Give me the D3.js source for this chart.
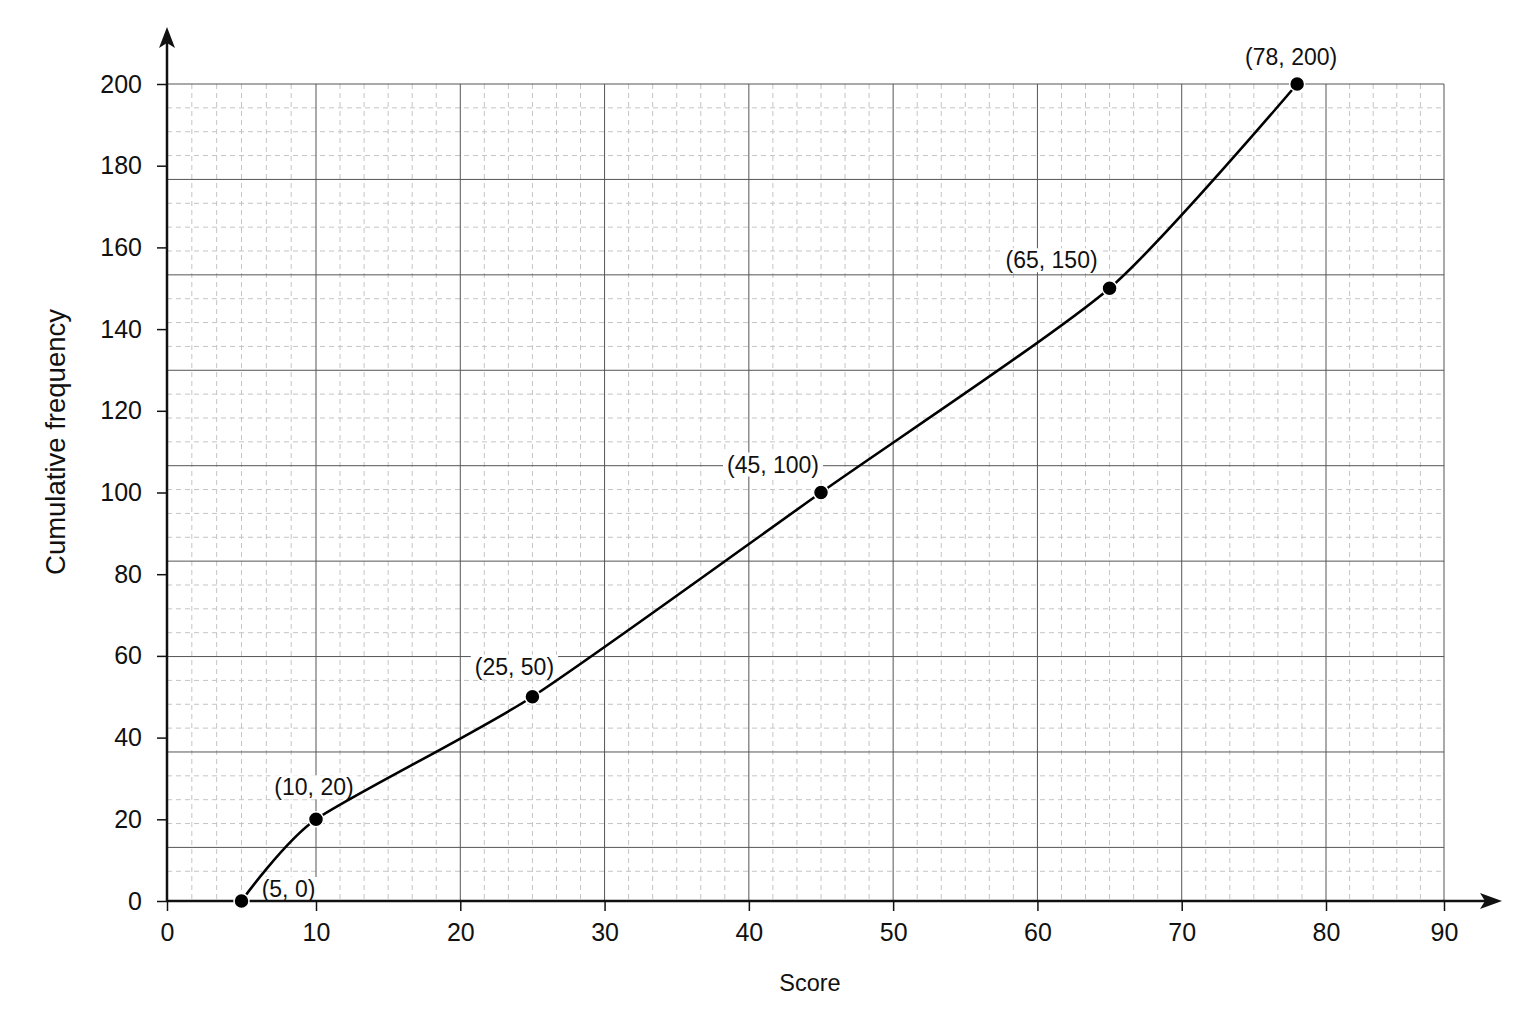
<!DOCTYPE html>
<html>
<head>
<meta charset="utf-8">
<script src="https://cdn.jsdelivr.net/npm/d3@7"></script>
<style>
  html, body { margin: 0; padding: 0; background: #fff; }
  text { font-family: "Liberation Sans", Arial, sans-serif; fill: #111; }
</style>
</head>
<body>
<script>
// 累积频率数据
const scores = [5, 10, 25, 45, 65, 78]
const cumFreq = [0, 20, 50, 100, 150, 200]
const pointLabels = ['(5, 0)', '(10, 20)', '(25, 50)', '(45, 100)', '(65, 150)', '(78, 200)']
const xTicks = [0, 10, 20, 30, 40, 50, 60, 70, 80, 90]
const yTicks = [0, 20, 40, 60, 80, 100, 120, 140, 160, 180, 200]

// 标签位置 (相对点的偏移)
const labelOffsets = [[47, -4], [-2, -24], [-18, -22], [-48, -20], [-58, -20], [-6, -19]]

const W = 1536, H = 1024

const svg = d3.select('body')
  .append('svg')
  .attr('width', W)
  .attr('height', H)

// x轴刻度间距不均匀，按刻度位置分段
const x = d3.scaleLinear()
  .domain([0, 10, 80, 90])
  .range([167, 316, 1326, 1444])

const y = d3.scaleLinear()
  .domain([0, 200])
  .range([901, 84])

// 坐标纸网格
const grid = svg.append('g')

const xMinor = []
xTicks.slice(0, -1).forEach(t => {
  const n = t === 80 ? 5 : 6
  for (let i = 1; i < n; i++) xMinor.push(t + i * 10 / n)
})
const yStep = 5.84
const yMinor = [], yMajor = []
for (let k = 1; k <= 33; k++) {
  const v = 200 - k * yStep
  if (k % 4 === 0) yMajor.push(v)
  else yMinor.push(v)
}

grid.selectAll('.vminor')
  .data(xMinor)
  .enter()
  .append('line')
  .attr('x1', d => x(d)).attr('x2', d => x(d))
  .attr('y1', y(200)).attr('y2', y(0))
  .attr('stroke', '#c4c4c4')
  .attr('stroke-width', 1)
  .attr('stroke-dasharray', '5,4')

grid.selectAll('.hminor')
  .data(yMinor)
  .enter()
  .append('line')
  .attr('x1', x(0)).attr('x2', x(90))
  .attr('y1', d => y(d)).attr('y2', d => y(d))
  .attr('stroke', '#c4c4c4')
  .attr('stroke-width', 1)
  .attr('stroke-dasharray', '5,4')

grid.selectAll('.vmajor')
  .data(xTicks.slice(1))
  .enter()
  .append('line')
  .attr('x1', d => x(d)).attr('x2', d => x(d))
  .attr('y1', y(200)).attr('y2', y(0))
  .attr('stroke', '#555')
  .attr('stroke-width', 1)

grid.selectAll('.hmajor')
  .data(yMajor.concat([200]))
  .enter()
  .append('line')
  .attr('x1', x(0)).attr('x2', x(90))
  .attr('y1', d => y(d)).attr('y2', d => y(d))
  .attr('stroke', '#555')
  .attr('stroke-width', 1)

const data = scores.map((s, i) => ({ score: s, freq: cumFreq[i], label: pointLabels[i] }))

// 点标签 (白底遮住网格线)
const labels = svg.append('g')
  .selectAll('g')
  .data(data)
  .enter()
  .append('g')

labels.append('text')
  .attr('x', (d, i) => x(d.score) + labelOffsets[i][0])
  .attr('y', (d, i) => y(d.freq) + labelOffsets[i][1])
  .attr('text-anchor', 'middle')
  .style('font-size', '23px')
  .text(d => d.label)

labels.each(function () {
  const g = d3.select(this)
  const b = g.select('text').node().getBBox()
  g.insert('rect', 'text')
    .attr('x', b.x - 4)
    .attr('y', b.y + 1)
    .attr('width', b.width + 8)
    .attr('height', b.height - 2)
    .attr('fill', '#fff')
})

// 坐标轴
const xAxis = svg.append('g')
  .attr('transform', `translate(0,${y(0)})`)
  .call(d3.axisBottom(x).tickValues(xTicks).tickSize(10).tickPadding(12))
xAxis.select('.domain').remove()
xAxis.selectAll('line').attr('stroke', '#111').attr('stroke-width', 1.5)
xAxis.selectAll('text').style('font-size', '25px').attr('fill', '#111')

const yAxis = svg.append('g')
  .attr('transform', `translate(${x(0)},0)`)
  .call(d3.axisLeft(y).tickValues(yTicks).tickSize(10).tickPadding(15))
yAxis.select('.domain').remove()
yAxis.selectAll('line').attr('stroke', '#111').attr('stroke-width', 1.5)
yAxis.selectAll('text').style('font-size', '25px').attr('fill', '#111')

// 带箭头的轴线
svg.append('line')
  .attr('x1', x(0)).attr('x2', 1488)
  .attr('y1', y(0)).attr('y2', y(0))
  .attr('stroke', '#111').attr('stroke-width', 2.5)
svg.append('path')
  .attr('d', `M1502,${y(0)} L1480,${y(0) - 8} L1485,${y(0)} L1480,${y(0) + 8} Z`)
  .attr('fill', '#111')

svg.append('line')
  .attr('x1', x(0)).attr('x2', x(0))
  .attr('y1', y(0)).attr('y2', 40)
  .attr('stroke', '#111').attr('stroke-width', 2.5)
svg.append('path')
  .attr('d', `M${x(0)},27 L${x(0) - 8},48 L${x(0)},43 L${x(0) + 8},48 Z`)
  .attr('fill', '#111')

// 轴标题
svg.append('text')
  .attr('x', 810)
  .attr('y', 991)
  .attr('text-anchor', 'middle')
  .style('font-size', '23.5px')
  .text('Score')

svg.append('text')
  .attr('transform', 'translate(65,442) rotate(-90)')
  .attr('text-anchor', 'middle')
  .style('font-size', '27.5px')
  .text('Cumulative frequency')

// 曲线
const line = d3.line()
  .x(d => x(d.score))
  .y(d => y(d.freq))
  .curve(d3.curveCardinal.tension(0.35))

svg.append('path')
  .datum(data)
  .attr('d', line)
  .attr('fill', 'none')
  .attr('stroke', '#000')
  .attr('stroke-width', 2.6)

svg.selectAll('circle')
  .data(data)
  .enter()
  .append('circle')
  .attr('cx', d => x(d.score))
  .attr('cy', d => y(d.freq))
  .attr('r', 7.5)
  .attr('fill', '#000')
  .attr('stroke', '#fff')
  .attr('stroke-width', 1.5)
</script>
</body>
</html>
